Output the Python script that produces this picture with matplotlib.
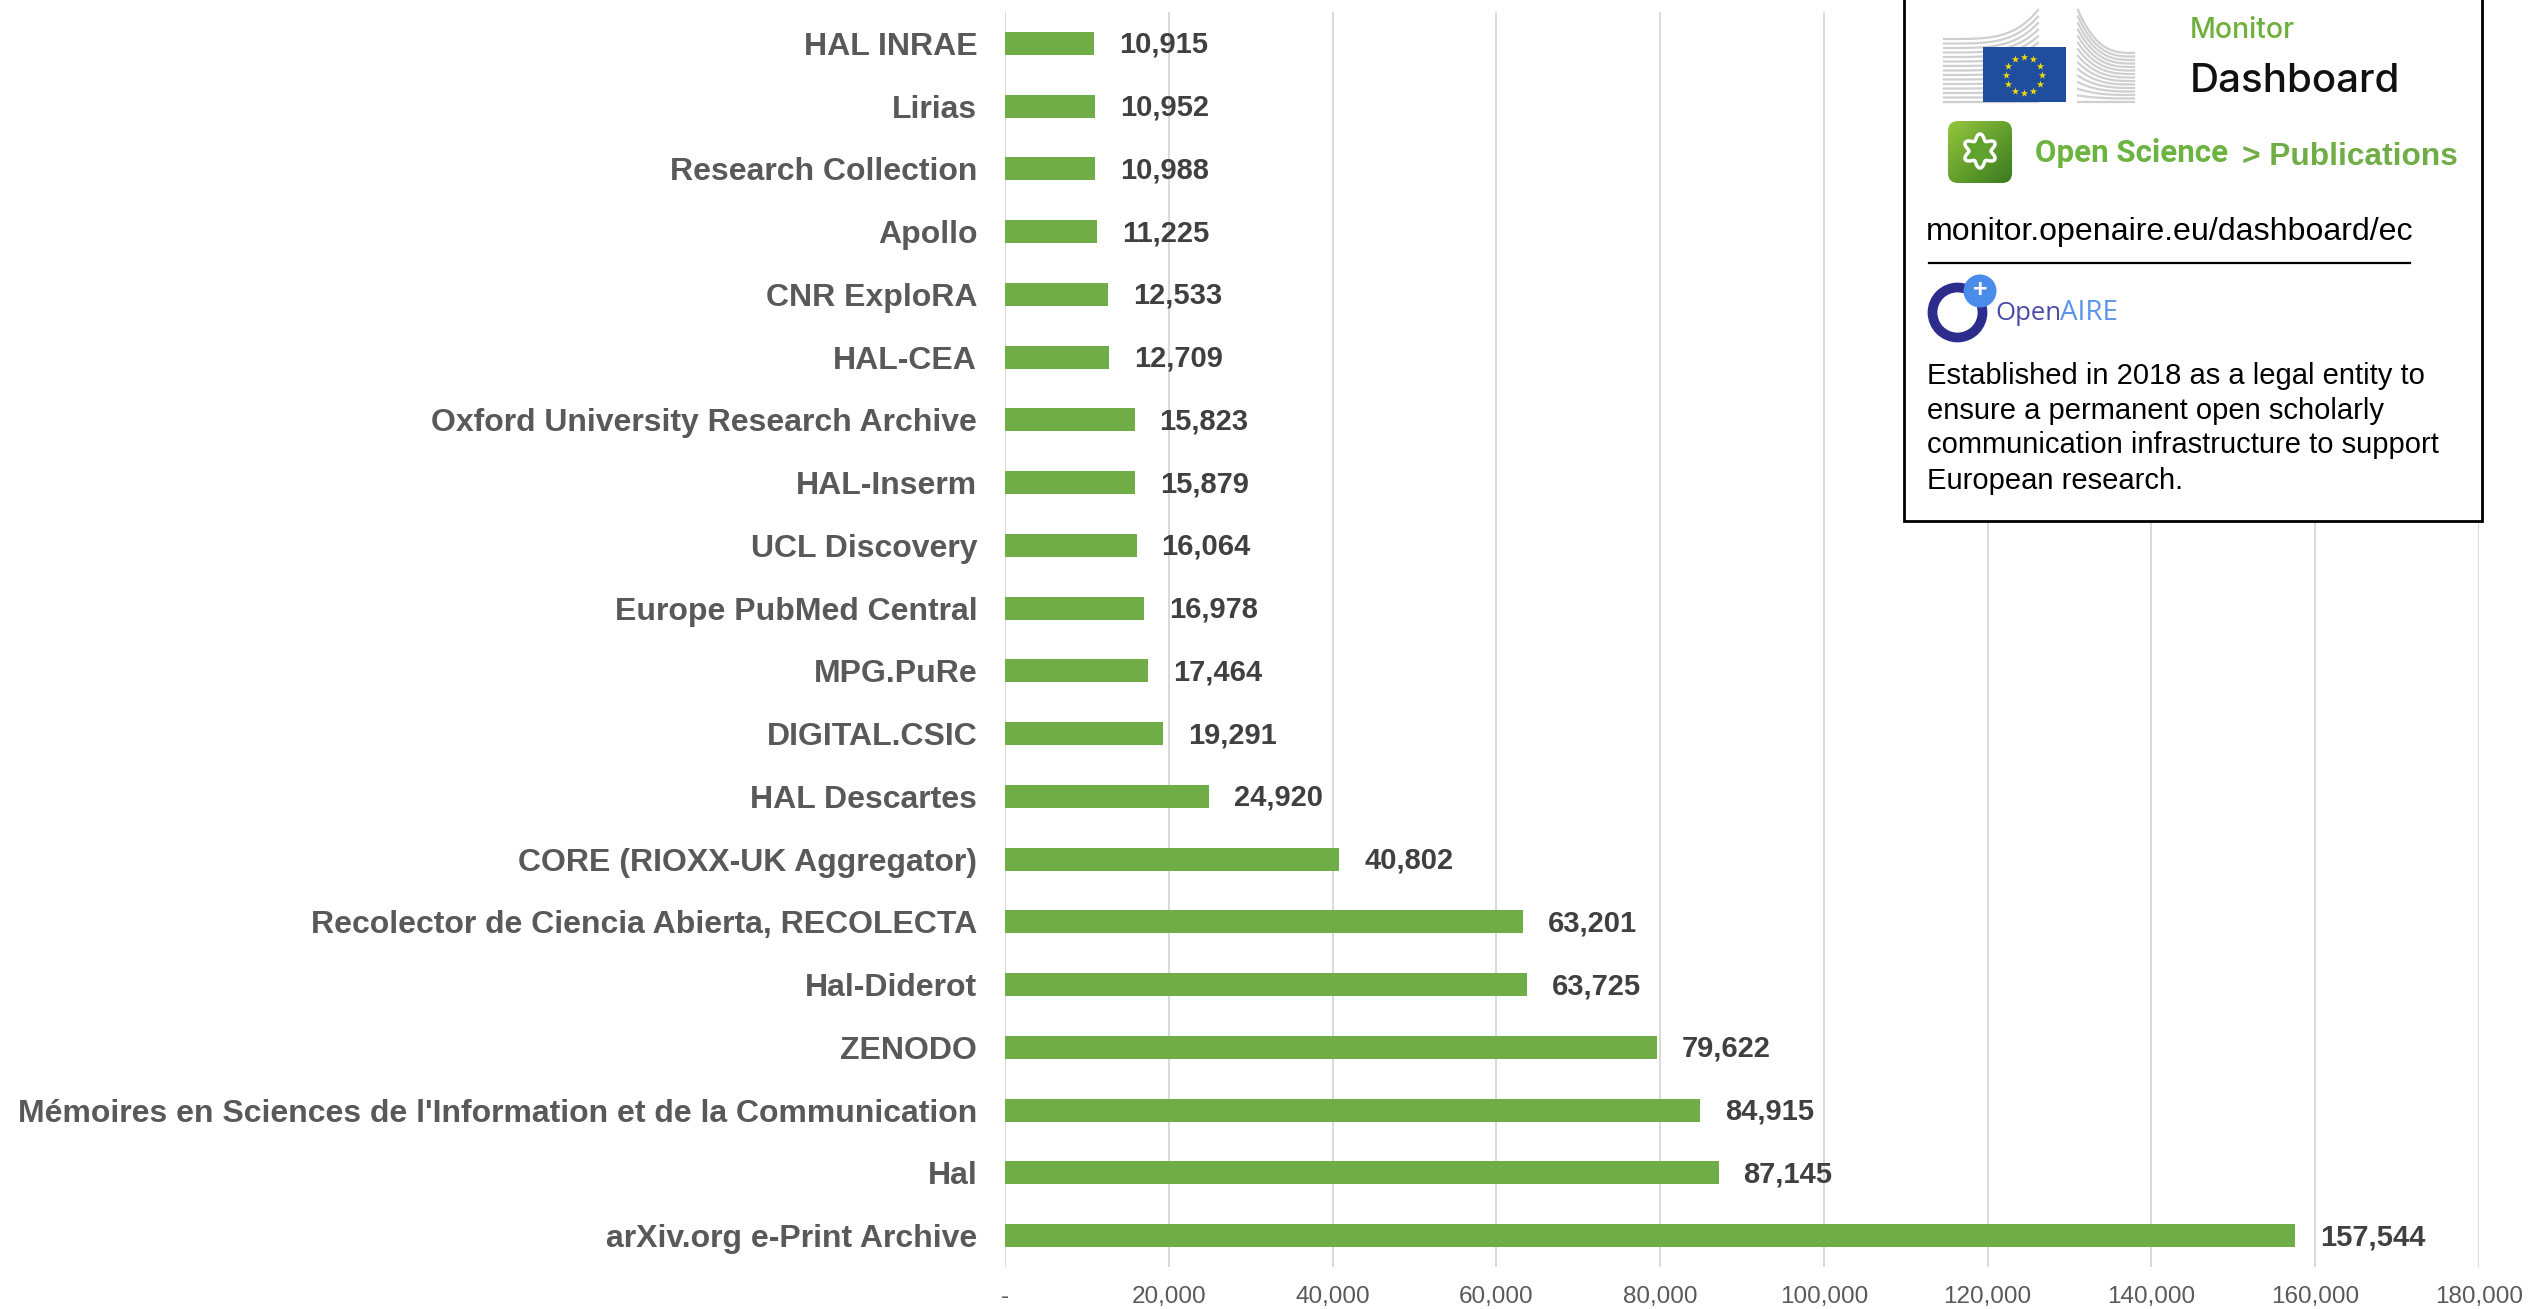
import numpy as np
import matplotlib
matplotlib.use("Agg")
import matplotlib.pyplot as plt
from matplotlib.patches import Rectangle, FancyBboxPatch, Circle, Polygon

W, H = 2537, 1309

categories = [
    "HAL INRAE", "Lirias", "Research Collection", "Apollo", "CNR ExploRA",
    "HAL-CEA", "Oxford University Research Archive", "HAL-Inserm",
    "UCL Discovery", "Europe PubMed Central", "MPG.PuRe", "DIGITAL.CSIC",
    "HAL Descartes", "CORE (RIOXX-UK Aggregator)",
    "Recolector de Ciencia Abierta, RECOLECTA", "Hal-Diderot", "ZENODO",
    "Mémoires en Sciences de l'Information et de la Communication", "Hal",
    "arXiv.org e-Print Archive",
]
values = [
    10915, 10952, 10988, 11225, 12533, 12709, 15823, 15879, 16064, 16978,
    17464, 19291, 24920, 40802, 63201, 63725, 79622, 84915, 87145, 157544,
]
x_ticks = [0, 20000, 40000, 60000, 80000, 100000, 120000, 140000, 160000, 180000]
x_tick_labels = ["-", "20,000", "40,000", "60,000", "80,000", "100,000",
                 "120,000", "140,000", "160,000", "180,000"]

description = [
    "Established in 2018 as a legal entity to",
    "ensure a permanent open scholarly",
    "communication infrastructure to support",
    "European research.",
]

plt.rcParams["font.family"] = ["Liberation Sans", "DejaVu Sans"]

fig = plt.figure(figsize=(W / 100, H / 100), dpi=100, facecolor="white")

# main chart, axes placed in pixels
left, right, top, bottom = 1005, 2479, 12, 1267
ax = fig.add_axes([left / W, 1 - bottom / H, (right - left) / W, (bottom - top) / H])
y = np.arange(len(categories))
ax.barh(y, values, height=0.37, color="#70AD47", zorder=3)
ax.set_xlim(0, 180000)
ax.set_ylim(len(categories) - 0.5, -0.5)
ax.set_yticks(y)
ax.set_yticklabels(categories, fontsize=23, fontweight="bold", color="#595959")
ax.set_xticks(x_ticks)
ax.set_xticklabels(x_tick_labels, fontsize=17.5, color="#595959")
ax.tick_params(axis="y", length=0, pad=20)
ax.tick_params(axis="x", length=0, pad=14)
ax.grid(axis="x", color="#D9D9D9", linewidth=1.4, zorder=0)
ax.set_axisbelow(True)
for s in ax.spines.values():
    s.set_visible(False)

for i, v in enumerate(values):
    ax.annotate(f"{v:,}", (v, i), xytext=(18, -1), textcoords="offset points",
                va="center", ha="left", fontsize=21, fontweight="bold",
                color="#404040", zorder=4)

# info panel on top of the chart, pixel coordinates
ov = fig.add_axes([0, 0, 1, 1], facecolor="none")
ov.add_patch(Rectangle((1904, -10), 578, 531, facecolor="white", edgecolor="black",
                       linewidth=2, zorder=1))

# Commission building, two wings of curved lines
s = np.linspace(0, 1, 40)
for t in np.linspace(0, 1, 15):
    y_left = 102 - 63 * t
    y_right = 102 - 92 * t
    ov.plot(1944 + 94 * s, y_left + (y_right - y_left) * s**4, color="#CFCFCF", lw=1.6, zorder=2)
    y_left = 102 - 92 * t
    y_right = 102 - 49 * t
    ov.plot(2078 + 56 * s, y_right - (y_right - y_left) * (1 - s)**3, color="#CFCFCF", lw=1.6, zorder=2)

# flag
ov.add_patch(Rectangle((1983, 47), 83, 55, facecolor="#1F4E9E", edgecolor="none", zorder=3))
ang = np.arange(12) * np.pi / 6
ov.scatter(2024 + 18 * np.cos(ang), 75 + 18 * np.sin(ang), marker="*", s=32,
           color="#F5D90A", linewidths=0, zorder=4)

ov.text(2190, 31, "Monitor", fontsize=20.5, family="Inter", fontweight="medium",
        color="#6FB03C", va="center", zorder=3)
ov.text(2190, 81, "Dashboard", fontsize=29, family="Inter", fontweight="medium",
        color="#111111", va="center", zorder=3)

# Open Science icon
grad = np.linspace(0, 1, 64)
gx, gy = np.meshgrid(grad, grad)
t = (gx + gy) / 2
rgb = np.dstack([0.58 - 0.36 * t, 0.78 - 0.30 * t, 0.24 - 0.12 * t])
im = ov.imshow(rgb, extent=(1948, 2012, 183, 121), zorder=3, aspect="auto")
box = FancyBboxPatch((1958, 131), 44, 42, boxstyle="round,pad=10", linewidth=0,
                     facecolor="none", zorder=3)
ov.add_patch(box)
im.set_clip_path(box)
theta = np.linspace(0, 2 * np.pi, 180)
r = 14 + 3 * np.cos(6 * theta)
ov.add_patch(Polygon(np.column_stack([1980 + r * np.sin(theta), 151 - r * np.cos(theta)]),
                     closed=True, facecolor="#5FA32E", edgecolor="white", linewidth=2.5, zorder=4))

ov.text(2035, 153, "Open Science", fontsize=22.5, family="Roboto", fontweight="bold",
        color="#6CB33F", va="center", zorder=3)
ov.text(2242, 157, "> Publications", fontsize=22.8, fontweight="bold", color="#70AD47",
        va="center", zorder=3)

ov.text(1926, 232, "monitor.openaire.eu/dashboard/ec", fontsize=23.1, color="black",
        va="center", zorder=3)
ov.plot([1929, 2410], [263, 263], color="black", lw=1.6, zorder=3)

# OpenAIRE logo
ov.add_patch(Circle((1957.5, 312.5), 25, facecolor="none", edgecolor="#2B2C8C", linewidth=7, zorder=3))
ov.add_patch(Circle((1980, 291), 16.5, facecolor="#4B8BEA", edgecolor="none", zorder=4))
ov.text(1980, 290, "+", fontsize=18, fontweight="bold", color="white", ha="center",
        va="center", zorder=5)
ov.text(1995, 313, "Open", fontsize=18.5, family="Open Sans", color="#4A4AA8", va="center", zorder=3)
ov.text(2060, 313, "AIRE", fontsize=20, family="Open Sans", color="#5B93E8", va="center", zorder=3)

for line, yy in zip(description, [376, 411, 445, 481]):
    ov.text(1927, yy, line, fontsize=21, color="black", va="center", zorder=3)

ov.set_xlim(0, W)
ov.set_ylim(H, 0)
ov.axis("off")

fig.savefig("out.png", dpi=100, facecolor="white")
